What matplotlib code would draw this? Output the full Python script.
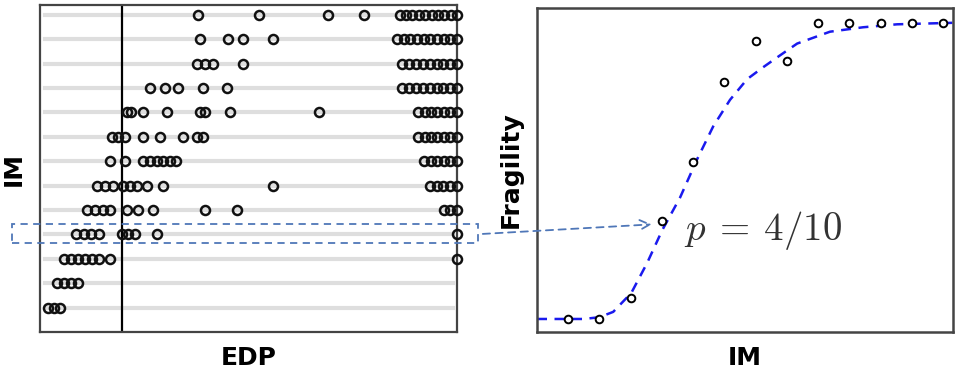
import numpy as np
import matplotlib.pyplot as plt
from matplotlib.patches import Rectangle

plt.rcParams['mathtext.fontset'] = 'cm'

# EDP samples for each IM level (row 1 = lowest IM, row 13 = highest)
edp_rows = [
    [0.19, 0.34, 0.48],
    [0.41, 0.58, 0.74, 0.91],
    [0.58, 0.74, 0.91, 1.08, 1.25, 1.41, 1.68, 10.0],
    [0.86, 1.06, 1.22, 1.41, 1.97, 2.11, 2.28, 2.81, 10.0],
    [1.13, 1.32, 1.51, 1.68, 2.09, 2.35, 2.71, 3.96, 4.72, 9.69, 9.84, 10.0],
    [1.37, 1.56, 1.75, 1.99, 2.16, 2.33, 2.57, 2.95, 5.59,
     9.35, 9.51, 9.67, 9.84, 10.0],
    [1.68, 2.04, 2.47, 2.64, 2.81, 2.95, 3.12, 3.26,
     9.21, 9.37, 9.53, 9.69, 9.84, 10.0],
    [1.73, 1.87, 2.04, 2.47, 2.88, 3.43, 3.77, 3.91,
     9.06, 9.22, 9.37, 9.53, 9.69, 9.84, 10.0],
    [2.09, 2.18, 2.47, 3.05, 3.84, 3.96, 4.56, 6.69,
     9.06, 9.22, 9.37, 9.53, 9.69, 9.84, 10.0],
    [2.64, 3.00, 3.31, 3.91, 4.48,
     8.68, 8.85, 9.01, 9.18, 9.34, 9.51, 9.67, 9.84, 10.0],
    [3.77, 3.96, 4.15, 4.87,
     8.68, 8.85, 9.01, 9.18, 9.34, 9.51, 9.67, 9.84, 10.0],
    [3.84, 4.51, 4.87, 5.59,
     8.56, 8.72, 8.88, 9.04, 9.20, 9.36, 9.52, 9.68, 9.84, 10.0],
    [3.79, 5.25, 6.91, 7.77,
     8.63, 8.78, 8.93, 9.08, 9.23, 9.39, 9.54, 9.69, 9.85, 10.0],
]
edp_threshold = 1.97

# fragility estimates per IM level
im_levels = [1, 2, 3, 4, 5, 6, 7, 8, 9, 10, 11, 12, 13]
fragility = [0.0, 0.0, 0.07, 0.33, 0.53, 0.80, 0.94, 0.87, 1.0, 1.0, 1.0, 1.0, 1.0]

# fitted curve
curve_im = [0.0, 1.5, 2.0, 2.44, 3.02, 3.53, 4.01, 4.58, 5.13, 5.64, 6.18,
            6.73, 7.24, 7.78, 8.33, 9.38, 10.44, 11.53, 13.3]
curve_p = [0.0, 0.0, 0.006, 0.024, 0.088, 0.19, 0.30, 0.41, 0.54, 0.65, 0.74,
           0.81, 0.85, 0.89, 0.93, 0.97, 0.985, 0.995, 1.0]

spine_col = '#444444'
box_col = '#4f77b8'

fig = plt.figure(figsize=(9.61, 3.80), dpi=100)

# ---- left panel: EDP samples per IM
ax1 = fig.add_axes([0.0416, 0.1263, 0.434, 0.8605])
for i, row in enumerate(edp_rows):
    im = i + 1
    ax1.plot([0.12, 9.9], [im, im], color='#dedede', lw=3, zorder=1)
    ax1.plot(row, [im] * len(row), 'o', ms=6.5, mfc='none', mec='#111111',
             mew=1.8, clip_on=False, zorder=3)
ax1.axvline(edp_threshold, color='black', lw=1.6, zorder=2)
ax1.set_xlim(0, 10)
ax1.set_ylim(0, 13.4)
ax1.set_xticks([])
ax1.set_yticks([])
ax1.set_xlabel('EDP', fontsize=18, fontweight='bold', labelpad=10)
ax1.set_ylabel('IM', fontsize=18, fontweight='bold', labelpad=10)
for s in ax1.spines.values():
    s.set_color(spine_col)
    s.set_linewidth(1.6)

# ---- right panel: fragility
ax2 = fig.add_axes([0.5588, 0.1263, 0.4329, 0.8526])
ax2.plot(curve_im, curve_p, color='#1a1aee', lw=1.8, ls=(0, (4, 3)), zorder=2)
ax2.plot(im_levels, fragility, 'o', ms=5.5, mfc='white', mec='black',
         mew=1.4, zorder=3)
ax2.text(4.7, 0.30, r'$p\:=\:4/10$', fontsize=28, color='#333333', va='center')
ax2.set_xlim(0.0, 13.32)
ax2.set_ylim(-0.044, 1.05)
ax2.set_xticks([])
ax2.set_yticks([])
ax2.set_xlabel('IM', fontsize=18, fontweight='bold', labelpad=10)
ax2.set_ylabel('Fragility', fontsize=18, fontweight='bold', labelpad=10)
for s in ax2.spines.values():
    s.set_color(spine_col)
    s.set_linewidth(1.8)

# dashed box around the 4th IM row and arrow to its fragility point
fig.patches.append(Rectangle((0.0125, 0.3605), 0.485, 0.05,
                             transform=fig.transFigure, fill=False,
                             ec=box_col, lw=1.3, ls=(0, (4, 3)), zorder=5))
fig.add_artist(plt.Annotation(
    '', xy=(0.681, 0.410), xycoords='figure fraction',
    xytext=(0.4995, 0.384), textcoords='figure fraction',
    arrowprops=dict(arrowstyle='->', color=box_col, lw=1.3,
                    ls=(0, (4, 3)), mutation_scale=18)))

fig.savefig('out.png', dpi=100)
